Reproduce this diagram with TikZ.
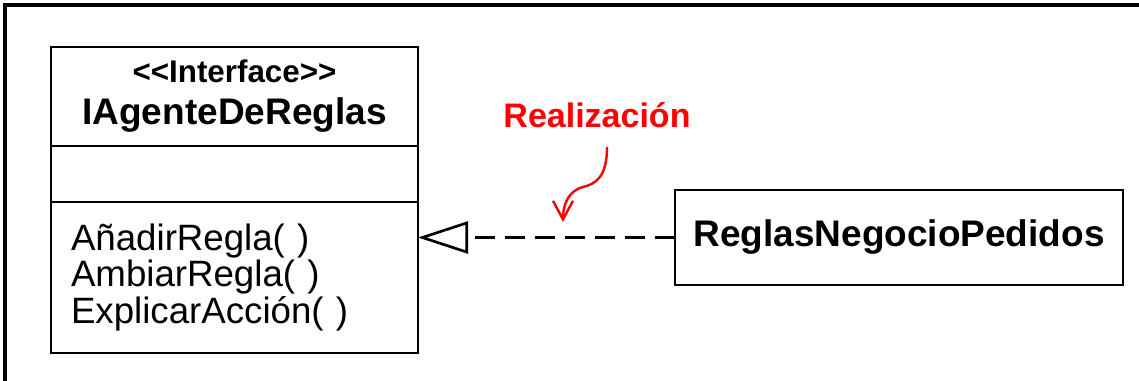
\documentclass[tikz,border=0pt]{standalone}
\usepackage{fontspec}
\setmainfont{Liberation Sans}
\usetikzlibrary{arrows.meta,positioning}
\definecolor{realred}{RGB}{255,0,0}

\begin{document}
\begin{tikzpicture}[x=0.75pt, y=-0.75pt,
  umlbox/.style={draw, line width=1.6pt, minimum width=275.25pt, inner sep=0pt, outer sep=0pt},
  realline/.style={line width=2pt, dash pattern=on 15pt off 7.5pt, -{Triangle[open, length=37.5pt, width=24pt]}}]
\useasboundingbox (0,0) rectangle (1139,381);
\draw[line width=2.3pt] (5,381) -- (5,5) -- (1139,5);
% interface class
\node[umlbox, minimum height=74.25pt, align=center, font=\bfseries\fontsize{27.75}{31.5}\selectfont] (hdr) at (234.5,96.5) {{\fontsize{23.5}{31.5}\selectfont <{}<Interface>{}>}\\IAgenteDeReglas};
\node[umlbox, minimum height=42pt, below=0pt of hdr] (att) {};
\node[umlbox, minimum height=113.25pt, below=0pt of att, text width=245.25pt, inner xsep=15pt, align=left, font=\fontsize{27.5}{27.4}\selectfont] (met) {AñadirRegla( )\\AmbiarRegla( )\\ExplicarAcción( )};
% implementing class
\node[umlbox, line width=2pt, minimum width=336pt, minimum height=71.25pt, font=\bfseries\fontsize{27.75}{32}\selectfont] (rnp) at (899,237.5) {ReglasNegocioPedidos};
\draw[realline] (rnp.west) -- (rnp.west -| met.east);
% label
\node[anchor=base, inner sep=0pt, text=realred, font=\bfseries\fontsize{25.5}{30}\selectfont] (lbl) at (597,128) {Realización};
\coordinate (q) at (607,147);
\coordinate (p) at (563,222);
\draw[realred, line width=1.8pt, -{Straight Barb[length=14pt, width=15pt]}] (q) .. controls (607,178) and (595,184) .. (583,187) .. controls (568,191) and (563,205) .. (p);
\end{tikzpicture}
\end{document}
